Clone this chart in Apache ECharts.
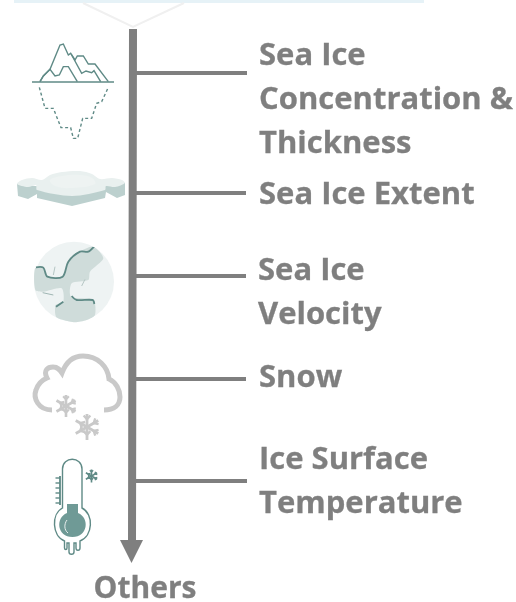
<!DOCTYPE html>
<html><head><meta charset="utf-8">
<style>html,body{margin:0;padding:0;background:#fff}#c{width:516px;height:602px}</style>
<script src="https://cdn.jsdelivr.net/npm/echarts@6/dist/echarts.min.js"></script>
</head><body><div id="c"></div>
<script>
var topicLines = [
  ["Sea Ice","Concentration &","Thickness"],
  ["Sea Ice Extent"],
  ["Sea Ice","Velocity"],
  ["Snow"],
  ["Ice Surface","Temperature"]
];
var finalLabel = "Others";

var GREY='#7f7f7f', TEAL='#5f8a86', CLOUD='#c9c9c9';
var chart = echarts.init(document.getElementById('c'),null,{renderer:'canvas'});
var g = [];
var nPaths=0;
function path(d,style){ var name='rsPath'+(nPaths++);
  echarts.graphic.registerShape(name, echarts.graphic.extendPath(d,{}));
  g.push({type:name,style:style}); }
function line(pts,color,w,extra,smooth){ g.push({type:'polyline',shape:{points:pts,smooth:smooth||0},style:Object.assign({stroke:color,lineWidth:w,fill:null},extra||{})}); }
function poly(pts,fill,smooth){ g.push({type:'polygon',shape:{points:pts,smooth:smooth||0},style:{fill:fill}}); }
function z(a,ox,oy){ return a.map(function(p){return [ox+p[0]/3,oy+p[1]/3];}); }

// top band and pointer
g.push({type:'rect',shape:{x:14,y:0,width:410,height:3},style:{fill:'#e6f2f7'}});
line([[83,3],[133,27],[184,3]],'#f0f0f0',2);

// trunk + arrow
var branchY=[73,193,276,379,481], branchEnd=[247,246,246,246,247];
poly([[129,29],[137,29],[136,540],[143,540],[131.5,563],[120,540],[128,540]],GREY);
branchY.forEach(function(y,i){ g.push({type:'rect',shape:{x:136,y:y-2,width:branchEnd[i]-136,height:4},style:{fill:GREY}}); });

// labels
var labelY=[[56,100,144],[195],[271,315],[378],[460,504]], labelX=[259,259,258,259,259];
var FONT='bold 31px "Open Sans"';
topicLines.forEach(function(ls,i){ ls.forEach(function(t,j){
  g.push({type:'text',style:{x:labelX[i],y:labelY[i][j],text:t,fill:GREY,font:FONT,textVerticalAlign:'middle',stroke:GREY,lineWidth:0.3}});
});});
g.push({type:'text',style:{x:145,y:589,text:finalLabel,fill:GREY,font:'bold 30px "Open Sans"',textAlign:'center',textVerticalAlign:'middle',stroke:GREY,lineWidth:0.3}});

// iceberg
var ICE=1.4;
line([[32,82],[114,82]],TEAL,ICE);
line(z([[120,245],[130,228],[150,208],[180,135],[190,132],[205,165],[212,160],[225,180],[232,168],[250,168],[265,192],[285,192],[325,245]],0,0),TEAL,ICE);
line(z([[120,245],[130,228],[150,208],[165,228],[178,225],[190,200],[205,200],[232,245]],0,0),TEAL,ICE);
line(z([[215,165],[245,220],[258,213],[275,218],[282,212],[302,245]],0,0),TEAL,ICE);
line(z([[118,262],[135,325],[160,325],[183,383],[212,383],[220,415],[233,415],[248,355],[275,355],[290,310],[305,305],[325,262]],0,0),TEAL,ICE,{lineDash:[3,2.5]});

// floe
poly([[17,184],[18,196],[28,199],[37,194],[37,198],[72,206],[105,198],[106,192],[117,198],[125,195],[125,183],[72,190]],'#bcd0ce');
poly([[17,184],[22,180],[32,178],[42,180],[50,175],[62,172],[80,171],[92,174],[100,179],[112,178],[122,180],[125,183],[115,187],[106,186],[105,190],[72,196],[37,190],[36,185],[28,187]],'#e9f0ef',0.3);
poly([[50,180],[62,176],[80,175],[92,178],[95,184],[72,188],[55,186]],'#eef3f2',0.4);

// globe
g.push({type:'circle',shape:{cx:74,cy:281.7,r:40},style:{fill:'#eef3f3'}});
poly(z([[105,205],[130,203],[143,230],[188,230],[205,185],[240,155],[280,140],[310,175],[270,215],[265,240],[215,250],[213,290],[280,300],[285,345],[260,360],[225,367],[190,360],[168,350],[167,315],[190,305],[185,265],[130,275],[106,270]],0,200),'#cfdcda',0.25);
line(z([[108,202],[130,203],[142,230],[188,230],[205,185],[240,155],[265,155],[282,140]],0,200),TEAL,1.8,null,0.3);
line(z([[215,288],[230,300],[278,300],[283,312]],0,200),TEAL,1.8,null,0.3);
line(z([[168,320],[190,305]],0,200),TEAL,1.8);
line(z([[160,225],[165,200]],0,200),'#b5c6c4',1);
line(z([[245,258],[255,238]],0,200),'#b5c6c4',1);
line(z([[128,278],[160,285]],0,200),'#9fb6b3',1);

// cloud
path('M52 410 C38 410 33 398 36 390 C38 384 42 380 47 378 C43 370 48 367 53 367 C58 367 60 370 62 373 C66 362 73 356 83 356 C98 356 108 367 109 379 C116 382 120 390 120 397 C120 405 114 410 104 410',{stroke:CLOUD,fill:null,lineWidth:5});
function flake(cx,cy,r,col,w){ for(var a=0;a<3;a++){var t=a*Math.PI/3+Math.PI/2;
  line([[cx-r*Math.cos(t),cy-r*Math.sin(t)],[cx+r*Math.cos(t),cy+r*Math.sin(t)]],col,w);
  [1,-1].forEach(function(s){var bx=cx+s*r*.6*Math.cos(t),by=cy+s*r*.6*Math.sin(t);
    line([[bx+r*.38*Math.cos(t+s*2.4),by+r*.38*Math.sin(t+s*2.4)],[bx,by],[bx+r*.38*Math.cos(t-s*2.4),by+r*.38*Math.sin(t-s*2.4)]],col,w*0.85);});}}
flake(66,406,11,CLOUD,2.6); flake(87,427,13,CLOUD,2.8);

// thermometer
path('M62.5 508 L62.5 469 C62.5 456 82 456 82 469 L82 508 C94 514 93 536 80 541 L80 548 C80 551 76 551 76 548 L76 543 L74 543 L74 552 C74 555 69 555 69 552 L69 543 L67 543 L67 548 C67 550 64.5 550 64.5 548 L64.5 541 C52 536 51 514 62.5 508 Z',{stroke:TEAL,fill:'#fff',lineWidth:1.4});
path('M67 504 L78 504 L78 513 C90 518 88 537 72.5 537 C57 537 55 518 67 513 Z',{fill:'#6f9a96'});
path('M67 520 C64 524 64 530 68 533',{stroke:'#e8efee',fill:null,lineWidth:1});
line([[60,476],[60,505]],TEAL,1.8);
for(var k=0;k<6;k++){ line([[55.5,478+k*5],[60,478+k*5]],TEAL,1.4); }
flake(91.5,476,6.5,TEAL,1.6);

chart.setOption({animation:false,backgroundColor:'#fff',graphic:{elements:g}});
</script></body></html>
